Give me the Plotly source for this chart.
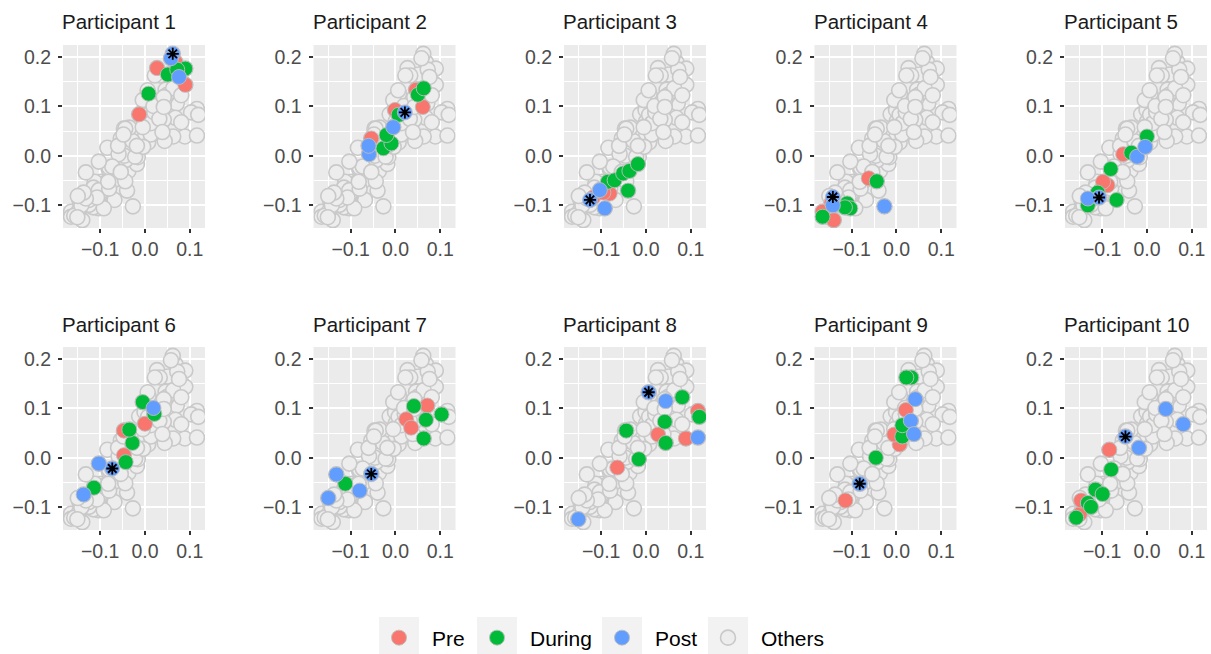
import plotly.graph_objects as go

# ---------------- data ----------------
PARTICIPANTS = [f"Participant {i}" for i in range(1, 11)]
PHASES = ["Pre", "During", "Post"]
PHASE_COLORS = ["#F8766D", "#00BA38", "#619CFF"]

PRE_X = [
    [-0.013, 0.027, 0.090, 0.068],
    [-0.054, -0.001, 0.061, 0.046],
    [-0.081, -0.118, -0.095],
    [-0.165, -0.140, -0.062, -0.145],
    [-0.088, -0.098, -0.053],
    [-0.047, -0.047, 0.000],
    [0.024, 0.035, 0.071],
    [-0.064, 0.027, 0.089, 0.116],
    [-0.114, 0.007, -0.005, 0.021],
    [-0.150, -0.147, -0.084],
]
PRE_Y = [
    [0.084, 0.178, 0.144, 0.190],
    [0.035, 0.093, 0.099, 0.134],
    [-0.077, -0.085, -0.075],
    [-0.114, -0.131, -0.046, -0.095],
    [-0.060, -0.053, 0.003],
    [0.005, 0.055, 0.069],
    [0.078, 0.061, 0.106],
    [-0.020, 0.047, 0.039, 0.095],
    [-0.087, 0.027, 0.047, 0.097],
    [-0.115, -0.087, 0.016],
]
DURING_X = [
    [0.008, 0.051, 0.090, 0.072],
    [-0.027, -0.009, -0.020, 0.007, 0.050, 0.063],
    [-0.085, -0.070, -0.051, -0.037, -0.018, -0.040],
    [-0.165, -0.110, -0.103, -0.115, -0.044],
    [-0.132, -0.110, -0.068, -0.081, -0.035, 0.000],
    [-0.114, -0.043, -0.028, -0.035, -0.005, 0.021],
    [-0.112, 0.041, 0.068, 0.103, 0.063],
    [-0.016, -0.044, 0.081, 0.042, 0.044, 0.119],
    [-0.046, 0.013, 0.013, 0.033, 0.022],
    [-0.158, -0.132, -0.125, -0.115, -0.099, -0.080],
]
DURING_Y = [
    [0.126, 0.165, 0.177, 0.175],
    [0.015, 0.025, 0.042, 0.083, 0.124, 0.137],
    [-0.053, -0.050, -0.036, -0.031, -0.017, -0.071],
    [-0.124, -0.097, -0.107, -0.105, -0.052],
    [-0.101, -0.075, -0.090, -0.027, 0.006, 0.039],
    [-0.061, -0.009, 0.030, 0.057, 0.113, 0.089],
    [-0.053, 0.105, 0.077, 0.088, 0.039],
    [-0.003, 0.055, 0.123, 0.073, 0.030, 0.083],
    [0.000, 0.043, 0.066, 0.163, 0.163],
    [-0.122, -0.092, -0.100, -0.065, -0.074, -0.024],
]
# first Post point of every participant is the one marked with an asterisk
POST_X = [
    [0.062, 0.058, 0.076],
    [0.021, -0.059, -0.060, -0.005],
    [-0.125, -0.103, -0.092],
    [-0.142, -0.142, -0.027],
    [-0.107, -0.132, -0.022, -0.004],
    [-0.073, -0.137, -0.103, 0.019],
    [-0.054, -0.150, -0.132, -0.080],
    [0.006, -0.151, 0.044, 0.116],
    [-0.082, 0.032, 0.039, 0.042],
    [-0.048, -0.018, 0.042, 0.081],
]
POST_Y = [
    [0.207, 0.198, 0.160],
    [0.088, 0.003, 0.020, 0.058],
    [-0.090, -0.070, -0.107],
    [-0.084, -0.101, -0.103],
    [-0.085, -0.087, -0.002, 0.018],
    [-0.022, -0.075, -0.012, 0.101],
    [-0.033, -0.082, -0.034, -0.067],
    [0.133, -0.125, 0.115, 0.041],
    [-0.053, 0.075, 0.048, 0.119],
    [0.043, 0.020, 0.099, 0.068],
]
STAR_INDEX = [0] * 10

X_TICKS = [-0.1, 0.0, 0.1]
Y_TICKS = [-0.1, 0.0, 0.1, 0.2]
X_RANGE = [-0.183, 0.134]
Y_RANGE = [-0.147, 0.225]

# ---------------- layout geometry (pixels from the top-left) ----------------
W = 1211
H = 672  # a little taller than the 654 window so the bottom legend is not pushed up
PANEL_W, PANEL_H = 142, 183
COL_LEFT = [63 + 250.5 * i for i in range(5)]
ROW_TOP = [45, 347]

ALL_X = [v for grp in (PRE_X, DURING_X, POST_X) for p in grp for v in p]
ALL_Y = [v for grp in (PRE_Y, DURING_Y, POST_Y) for p in grp for v in p]

FONT = "Liberation Sans, Arial, sans-serif"
fig = go.Figure()
annotations = []
layout_axes = {}

series = [(PRE_X, PRE_Y), (DURING_X, DURING_Y), (POST_X, POST_Y)]
legend_ids = ["legend", "legend2", "legend3"]

for k in range(10):
    r, c = divmod(k, 5)
    xa = "x" if k == 0 else f"x{k+1}"
    ya = "y" if k == 0 else f"y{k+1}"
    left = COL_LEFT[c]
    top = ROW_TOP[r]
    dom_x = [left / W, (left + PANEL_W) / W]
    dom_y = [1 - (top + PANEL_H) / H, 1 - top / H]
    axcommon = dict(
        showgrid=True, gridcolor="white", gridwidth=1.8, zeroline=False,
        ticks="outside", ticklen=4, tickwidth=1.6, tickcolor="#333333",
        tickfont=dict(family=FONT, size=19.5, color="#4D4D4D"),
        tickformat=".1f", showline=False,
        minor=dict(dtick=0.05, tick0=0.05, showgrid=True, gridcolor="white",
                   gridwidth=0.9, ticks=""),
    )
    layout_axes["xaxis" if k == 0 else f"xaxis{k+1}"] = dict(
        domain=dom_x, range=X_RANGE, tickvals=X_TICKS, anchor=ya, **axcommon)
    layout_axes["yaxis" if k == 0 else f"yaxis{k+1}"] = dict(
        domain=dom_y, range=Y_RANGE, tickvals=Y_TICKS, anchor=xa,
        ticklabelstandoff=3, **axcommon)

    # Others: every observation in grey
    fig.add_trace(go.Scatter(
        x=ALL_X, y=ALL_Y, mode="markers", name="Others", xaxis=xa, yaxis=ya,
        marker=dict(size=15, color="#EDEDED", line=dict(color="#C9C9C9", width=1.6)),
        legend="legend4", showlegend=(k == 0), hoverinfo="skip"))
    for (sx, sy), ph, col, lg in zip(series, PHASES, PHASE_COLORS, legend_ids):
        fig.add_trace(go.Scatter(
            x=sx[k], y=sy[k], mode="markers", name=ph, xaxis=xa, yaxis=ya,
            marker=dict(size=15, color=col, line=dict(color="rgba(190,190,190,0.9)", width=1)),
            legend=lg, showlegend=(k == 0)))
    si = STAR_INDEX[k]
    fig.add_trace(go.Scatter(
        x=[POST_X[k][si]], y=[POST_Y[k][si]], mode="markers", xaxis=xa, yaxis=ya,
        marker=dict(symbol="asterisk-open", size=10, color="black",
                    line=dict(color="black", width=1.8)),
        showlegend=False, hoverinfo="skip"))

    annotations.append(dict(
        text=PARTICIPANTS[k], xref="paper", yref="paper",
        x=(left - 3) / W, y=1 - (top - 23) / H, xanchor="left", yanchor="middle",
        showarrow=False, font=dict(family=FONT, size=20.5, color="#1A1A1A")))

# legend: one legend per key so each entry can sit where the reference puts it
KEY_CENTERS = [399, 497, 622, 728]
LEG_Y = 638
ITEM_W = 56
SYM_OFFSET = ITEM_W / 2 + 5
legend_layout = {}
for lid, cx in zip(["legend", "legend2", "legend3", "legend4"], KEY_CENTERS):
    legend_layout[lid] = dict(
        x=(cx - SYM_OFFSET) / W, y=1 - LEG_Y / H, xanchor="left", yanchor="middle",
        orientation="h", bgcolor="rgba(0,0,0,0)", borderwidth=0, itemwidth=ITEM_W,
        font=dict(family=FONT, size=21, color="black"))

shapes = []
for cx in KEY_CENTERS:
    shapes.append(dict(type="rect", xref="paper", yref="paper",
                       x0=(cx - 20) / W, x1=(cx + 20) / W,
                       y0=1 - 656 / H, y1=1 - 617 / H,
                       fillcolor="#F2F2F2", line=dict(width=0), layer="below"))

fig.update_layout(
    width=W, height=H, margin=dict(l=0, r=0, t=0, b=0),
    paper_bgcolor="white", plot_bgcolor="#EBEBEB",
    annotations=annotations, shapes=shapes, showlegend=True,
    **layout_axes, **legend_layout)

fig.write_html(
    "out.html",
    config={"displayModeBar": False},
    post_script="document.body.style.margin='0';document.body.style.overflow='hidden';",
)
